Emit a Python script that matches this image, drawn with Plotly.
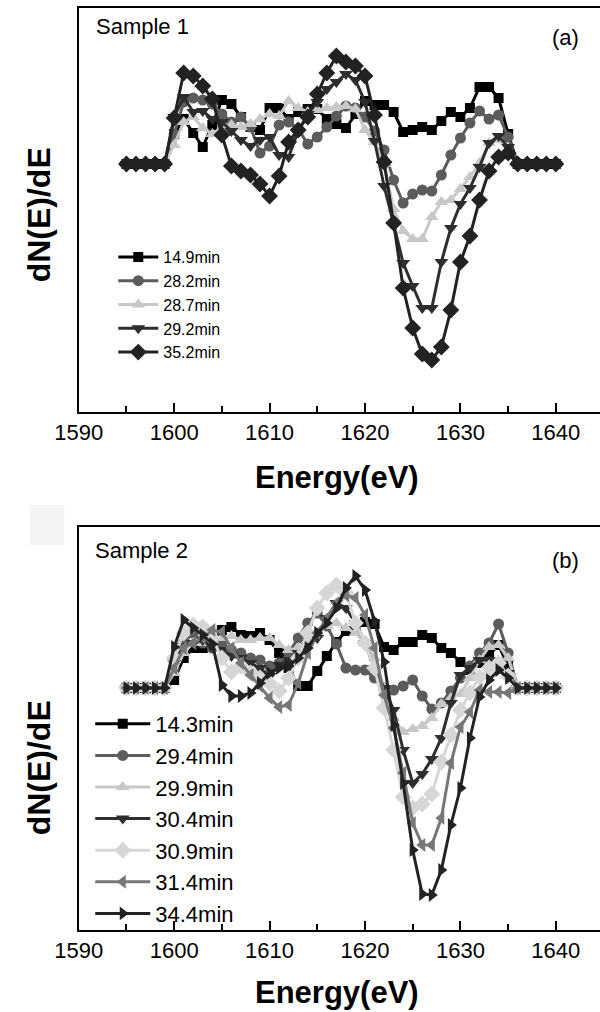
import plotly.graph_objects as go

energy = [1595, 1596, 1597, 1598, 1599, 1600, 1601, 1602, 1603, 1604, 1605, 1606,
          1607, 1608, 1609, 1610, 1611, 1612, 1613, 1614, 1615, 1616, 1617, 1618,
          1619, 1620, 1621, 1622, 1623, 1624, 1625, 1626, 1627, 1628, 1629, 1630,
          1631, 1632, 1633, 1634, 1635, 1636, 1637, 1638, 1639, 1640]

Z5 = [0, 0, 0, 0, 0]

# Sample 1 (panel a)
s1_149 = Z5 + [30, 45, 31, 17, 39, 64, 60, 47, 37, 34, 56, 56, 45, 52, 55, 55, 45, 40, 36, 50,
               63, 59, 59, 52, 32, 34, 37, 34, 43, 52, 47, 56, 77, 77, 66, 30] + Z5
s1_282 = Z5 + [30, 62, 66, 64, 60, 50, 42, 47, 37, 11, 18, 39, 42, 35, 20, 27, 37, 48, 58, 56,
               47, 33, 14, -16, -39, -30, -26, -27, -11, 9, 26, 41, 53, 45, 49, 27] + Z5
s1_287 = Z5 + [19, 42, 47, 36, 30, 36, 39, 37, 40, 45, 50, 48, 63, 56, 52, 54, 56, 57, 58, 55,
               34, 22, 0, -45, -67, -75, -75, -53, -38, -36, -25, -13, 1, 21, 24, 14] + Z5
s1_292 = Z5 + [47, 67, 52, 53, 45, 42, 33, 24, 18, 24, 27, 9, 7, 33, 50, 62, 75, 82, 90, 84,
               62, 23, -22, -60, -99, -122, -144, -144, -98, -64, -40, -24, -3, 21, 28, 17] + Z5
s1_352 = Z5 + [46, 91, 88, 78, 65, 29, -2, -7, -11, -20, -32, -12, 22, 34, 47, 70, 91, 108, 102, 98,
               88, 49, 2, -59, -124, -164, -190, -196, -183, -146, -98, -72, -36, -7, 7, 11] + Z5

# Sample 2 (panel b)
s2_143 = Z5 + [8, 30, 40, 40, 42, 58, 61, 53, 52, 55, 48, 35, 20, 2, 2, 17, 32, 46, 57, 62,
               66, 64, 41, 38, 46, 46, 53, 50, 40, 35, 26, 18, 25, 33, 43, 22] + Z5
s2_294 = Z5 + [20, 45, 55, 45, 40, 45, 38, 35, 30, 28, 22, 25, 35, 50, 65, 75, 62, 44, 20, 18,
               18, 10, 0, -2, 2, 8, -8, -21, -15, -3, 10, 22, 35, 45, 64, 35] + Z5
s2_299 = Z5 + [15, 35, 45, 45, 48, 50, 52, 48, 48, 50, 50, 43, 38, 40, 45, 55, 62, 65, 60, 55,
               45, 30, 0, -30, -44, -41, -38, -30, -16, -10, -6, 10, 28, 41, 43, 30] + Z5
s2_304 = Z5 + [25, 42, 45, 48, 41, 38, 32, 30, 25, 20, 12, 23, 28, 35, 42, 50, 70, 85, 80, 65,
               45, 20, 0, -22, -62, -95, -86, -71, -50, -15, 13, 20, 28, 28, 25, 15] + Z5
s2_309 = Z5 + [30, 55, 63, 61, 50, 30, 16, 22, 15, 10, 5, -3, 10, 30, 55, 80, 95, 103, 95, 65,
               45, 20, -20, -62, -109, -120, -116, -106, -74, -47, -22, -5, 11, 20, 25, 12] + Z5
s2_314 = Z5 + [20, 40, 45, 50, 58, 56, 40, 25, 13, 2, -10, -19, -17, 5, 35, 55, 70, 85, 93, 90,
               73, 40, -7, -40, -85, -135, -157, -157, -130, -75, -39, -24, -2, -4, -4, -5] + Z5
s2_344 = Z5 + [41, 68, 60, 53, 44, 3, -8, -8, -5, 5, 15, 20, 22, 30, 40, 55, 65, 80, 100, 112,
               98, 67, 26, -37, -95, -162, -206, -207, -182, -137, -100, -50, -9, 8, 18, 10] + Z5

labels_a = ["14.9min", "28.2min", "28.7min", "29.2min", "35.2min"]
labels_b = ["14.3min", "29.4min", "29.9min", "30.4min", "30.9min", "31.4min", "34.4min"]
tick_vals = [1590, 1600, 1610, 1620, 1630, 1640]

FONT = "Liberation Sans, Arial, sans-serif"

series_a = [
    (labels_a[0], s1_149, "square", "#000000", 10),
    (labels_a[1], s1_282, "circle", "#5c5c5c", 11),
    (labels_a[2], s1_287, "triangle-up", "#c8c8c8", 12),
    (labels_a[3], s1_292, "triangle-down", "#2e2e2e", 12),
    (labels_a[4], s1_352, "diamond", "#222222", 13),
]
series_b = [
    (labels_b[0], s2_143, "square", "#000000", 10),
    (labels_b[1], s2_294, "circle", "#5c5c5c", 11),
    (labels_b[2], s2_299, "triangle-up", "#c8c8c8", 12),
    (labels_b[3], s2_304, "triangle-down", "#2e2e2e", 12),
    (labels_b[4], s2_309, "diamond", "#d6d6d6", 13),
    (labels_b[5], s2_314, "triangle-left", "#777777", 12),
    (labels_b[6], s2_344, "triangle-right", "#222222", 12),
]

fig = go.Figure()
for name, vals, sym, col, sz in series_a:
    fig.add_trace(go.Scatter(
        x=energy, y=vals, name=name, mode="lines+markers",
        line=dict(color=col, width=3),
        marker=dict(symbol=sym, size=sz, color=col),
        xaxis="x", yaxis="y", legend="legend"))
for name, vals, sym, col, sz in series_b:
    fig.add_trace(go.Scatter(
        x=energy, y=vals, name=name, mode="lines+markers",
        line=dict(color=col, width=3),
        marker=dict(symbol=sym, size=sz, color=col),
        xaxis="x2", yaxis="y2", legend="legend2"))

W, H = 600, 1012
x0 = 57
xr = [1590, 1590 + (W - x0) / 9.94]

def py(p):
    return 1 - p / H

xaxis_common = dict(
    range=xr, tickvals=tick_vals, ticks="inside", ticklen=9, tickwidth=1.5,
    tickcolor="#000", showline=True, linecolor="#000", linewidth=2, mirror=True,
    showgrid=False, zeroline=False,
    tickfont=dict(family=FONT, size=22, color="#000"),
    minor=dict(dtick=5, ticks="inside", ticklen=6, tickwidth=1.5, tickcolor="#000"),
)
yaxis_common = dict(
    showticklabels=False, ticks="", showgrid=False, zeroline=False,
    showline=True, linecolor="#000", linewidth=2, mirror=False,
)

fig.update_layout(
    width=W, height=H, margin=dict(l=0, r=0, t=0, b=0),
    paper_bgcolor="white", plot_bgcolor="white",
    xaxis=dict(domain=[x0 / W, 1], anchor="y", **xaxis_common),
    yaxis=dict(domain=[py(412), py(7.5)], anchor="x", range=[-248, 156.5], **yaxis_common),
    xaxis2=dict(domain=[x0 / W, 1], anchor="y2", **xaxis_common),
    yaxis2=dict(domain=[py(930), py(527)], anchor="x2", range=[-242, 161], **yaxis_common),
    legend=dict(x=93 / W, y=py(240), xanchor="left", yanchor="top",
                bgcolor="rgba(0,0,0,0)", font=dict(family=FONT, size=16, color="#000"),
                itemwidth=40, tracegroupgap=0),
    legend2=dict(x=69 / W, y=py(703), xanchor="left", yanchor="top",
                 bgcolor="rgba(0,0,0,0)", font=dict(family=FONT, size=22, color="#000"),
                 itemwidth=55, tracegroupgap=0),
    showlegend=True,
)

annots = [
    dict(text="Sample 1", x=73 / W, y=py(27), xanchor="left", yanchor="middle",
         font=dict(family=FONT, size=22, color="#000")),
    dict(text="(a)", x=564 / W, y=py(37), xanchor="center", yanchor="middle",
         font=dict(family=FONT, size=22, color="#000")),
    dict(text="Sample 2", x=72 / W, y=py(550), xanchor="left", yanchor="middle",
         font=dict(family=FONT, size=22, color="#000")),
    dict(text="(b)", x=564 / W, y=py(560), xanchor="center", yanchor="middle",
         font=dict(family=FONT, size=22, color="#000")),
    dict(text="<b>Energy(eV)</b>", x=326 / W, y=py(478), xanchor="center",
         yanchor="middle", font=dict(family=FONT, size=31, color="#000")),
    dict(text="<b>Energy(eV)</b>", x=326 / W, y=py(992), xanchor="center",
         yanchor="middle", font=dict(family=FONT, size=31, color="#000")),
    dict(text="<b>dN(E)/dE</b>", x=16 / W, y=py(215), xanchor="center", yanchor="middle",
         textangle=-90, font=dict(family=FONT, size=32, color="#000")),
    dict(text="<b>dN(E)/dE</b>", x=16 / W, y=py(768), xanchor="center", yanchor="middle",
         textangle=-90, font=dict(family=FONT, size=32, color="#000")),
]
for a in annots:
    a.update(xref="paper", yref="paper", showarrow=False)
fig.update_layout(annotations=annots)

fig.add_shape(type="rect", xref="paper", yref="paper",
              x0=6 / W, x1=42 / W, y0=py(545), y1=py(505),
              fillcolor="#f4f4f4", line=dict(width=0), layer="below")

fig.write_html("out.html", config={"displayModeBar": False},
               post_script="document.body.style.margin='0';document.body.style.overflow='hidden';")
